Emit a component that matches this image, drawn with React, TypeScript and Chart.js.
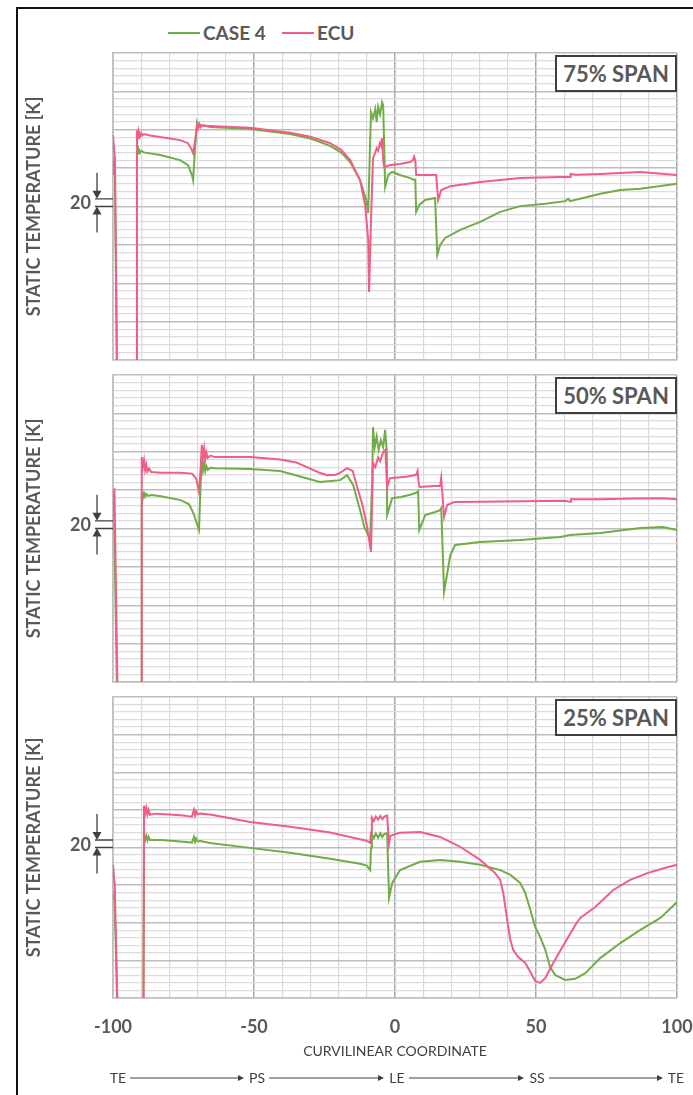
import React, { useEffect, useRef } from 'react';
import { Chart, registerables } from 'chart.js';

Chart.register(...registerables);
Chart.defaults.font.family = 'Lato, "Open Sans", sans-serif';

const GREEN = '#70ad47';
const PINK = '#ee5f86';
const TEXT = '#595959';

const SERIES = ['CASE 4', 'ECU'];
const X_TICKS = [-100, -50, 0, 50, 100];
const FLOW_LABELS = ['TE', 'PS', 'LE', 'SS', 'TE'];
const PANEL_TITLES = ['75% SPAN', '50% SPAN', '25% SPAN'];

// ---- 75% span ----
const s75EcuX = [-100, -99.3, -98.6, -91.8, -91.5, -91.1, -90.8, -90.4, -90.0, -89.7, -89.0, -86.9, -83.3, -76.2, -73.4, -72.0, -71.6, -70.9, -70.2, -69.8, -69.4, -69.0, -68.5, -65.6, -51.4, -37.2, -30, -23, -19, -15.9, -12.4, -10.6, -9.5, -9.2, -8.5, -7.8, -7.0, -6.5, -6.0, -5.3, -4.9, -4.6, -4.2, -3.8, -1.7, 1.8, 5.4, 6.3, 6.8, 7.2, 7.5, 8.9, 14.6, 15.3, 16.4, 19.6, 30.2, 44.4, 58.6, 62.1, 62.3, 64, 72.8, 87, 100];
const s75EcuY = [586, 521, -20, -20, 599, 578, 594, 583, 591, 585, 589, 585, 581, 573, 565, 547, 539, 570, 612, 604, 614, 606, 611, 610, 605, 592, 582, 565, 547, 521, 469, 404, 313, 177, 365, 526, 540, 552, 546, 565, 558, 578, 521, 503, 508, 511, 516, 520, 530, 520, 482, 482, 482, 417, 443, 453, 464, 474, 477, 477, 485, 483, 485, 490, 482];
const s75CaseX = [-100, -99.4, -98.6, -91.8, -91.5, -91.1, -90.8, -90.4, -90.0, -89.0, -83.3, -76.2, -73.4, -72.0, -71.6, -70.9, -70.2, -69.8, -69.4, -69.0, -68.5, -65.6, -51.4, -37.2, -30, -23, -19, -15.9, -12.4, -10.2, -9.5, -8.9, -8.5, -7.8, -7.0, -6.5, -6.0, -5.3, -4.6, -4.2, -3.8, -3.5, -2.4, -1.0, 1.8, 5.4, 6.8, 7.2, 7.5, 8.6, 10.7, 14.2, 15.0, 16.0, 17.8, 23.1, 30.2, 37.3, 44.4, 53.3, 60.4, 61.4, 62.1, 72.8, 79.9, 87, 100];
const s75CaseY = [482, 530, -20, -20, 552, 538, 548, 540, 545, 541, 534, 521, 508, 482, 469, 550, 618, 608, 616, 609, 612, 607, 602, 589, 577, 558, 540, 516, 469, 417, 383, 547, 646, 630, 654, 620, 660, 640, 672, 664, 547, 451, 482, 490, 482, 474, 469, 470, 386, 404, 417, 422, 274, 300, 318, 339, 360, 386, 401, 407, 414, 420, 414, 433, 443, 446, 459];

// ---- 50% span ----
const s50EcuX = [-100, -99.5, -98.4, -89.9, -89.8, -89.4, -89.0, -88.6, -88.2, -87.8, -87.2, -86.5, -83, -76, -72, -70.5, -69.5, -68.9, -68.5, -68.1, -67.7, -67.3, -66.9, -66.4, -65.5, -63.8, -51.4, -40.7, -35, -31.2, -27, -24.1, -21, -19.5, -17, -15, -13.4, -11.5, -9.9, -8.5, -7.8, -7.0, -6.0, -5.3, -4.2, -3.4, -2.8, -1.8, 0, 4, 7.5, 8.0, 8.4, 8.7, 14, 16.0, 16.4, 17.4, 18.5, 21, 30, 45, 60, 62.1, 62.4, 72.8, 85, 95, 100];
const s50EcuY = [440, 505, -20, -20, 586, 560, 578, 552, 566, 548, 556, 547, 545, 545, 543, 530, 495, 560, 618, 585, 608, 580, 598, 584, 590, 586, 586, 580, 572, 560, 546, 539, 540, 545, 557, 550, 508, 460, 404, 339, 571, 560, 585, 575, 598, 605, 508, 531, 532, 535, 540, 550, 520, 508, 511, 511, 532, 430, 461, 469, 470, 471, 472, 470, 476, 476, 478, 479, 476];
const s50CaseX = [-100, -99.6, -98.6, -89.9, -89.8, -89.4, -89.0, -88.6, -88.2, -87.6, -86.5, -83, -76, -73, -71.5, -69.5, -68.9, -68.5, -68.1, -67.7, -67.3, -66.9, -66.4, -65.5, -63.8, -51.4, -40.7, -26.6, -19.5, -17, -14.8, -12.4, -10.9, -9.5, -8.8, -8.1, -7.8, -7.2, -6.5, -5.8, -5.0, -4.2, -3.5, -2.9, -2.8, -1.0, 2, 5.4, 7.5, 8.2, 8.6, 10.7, 14.2, 16.0, 16.4, 17.4, 19.6, 21.3, 30.2, 44.4, 58.6, 62.1, 72.8, 87, 95, 100];
const s50CaseY = [430, 440, -20, -20, 495, 480, 492, 483, 490, 485, 487, 484, 474, 463, 440, 396, 520, 578, 552, 570, 550, 563, 553, 558, 557, 555, 550, 521, 526, 539, 513, 448, 404, 383, 375, 520, 664, 612, 640, 605, 630, 612, 657, 600, 435, 479, 482, 488, 493, 497, 396, 435, 443, 448, 453, 235, 330, 357, 365, 370, 378, 383, 388, 401, 404, 396];

// ---- 25% span ----
const s25EcuX = [-100, -99.4, -98.4, -89.2, -89.0, -88.6, -88.2, -87.8, -87.4, -86.9, -85, -80, -75, -72, -71.3, -70.9, -70.5, -70, -69, -65, -51.4, -37.2, -23, -12.4, -10, -8.8, -8.5, -8.2, -7.5, -6.8, -6, -5.2, -4.5, -3.8, -2.8, -2.1, -1.7, 0, 1.8, 8.9, 16, 23.1, 30.2, 35.5, 37.3, 38.4, 39.8, 40.9, 41.9, 43.7, 46.2, 48, 49.7, 51.5, 53.3, 56.1, 60.4, 64.6, 65.7, 71, 77.4, 83.4, 89.5, 95.9, 100];
const s25EcuY = [354, 300, -20, -20, 511, 490, 505, 488, 500, 487, 490, 488, 485, 482, 500, 485, 496, 488, 490, 487, 468, 455, 440, 422, 418, 412, 440, 479, 470, 482, 474, 484, 475, 482, 485, 410, 430, 436, 439, 441, 428, 402, 367, 332, 314, 279, 207, 154, 128, 109, 93, 69, 45, 40, 53, 93, 149, 202, 213, 242, 287, 314, 332, 346, 354];
const s25CaseX = [-100, -99.5, -98.5, -89.2, -89.0, -88.6, -88.2, -87.8, -87.4, -86.9, -83, -76, -72, -71.3, -70.9, -70.5, -70, -69, -65.6, -51.4, -37.2, -23, -12.4, -10, -8.8, -8.5, -8.2, -7.5, -6.8, -6, -5.2, -4.5, -3.8, -2.8, -2.1, -1, 1.8, 8.9, 16, 23.1, 30.2, 37.3, 40.9, 44.4, 46.2, 48, 49.7, 51.5, 53.3, 55, 56.8, 60.4, 63.9, 67.5, 72.8, 79.9, 87, 94.1, 100];
const s25CaseY = [261, 280, -20, -20, 434, 420, 431, 419, 428, 420, 420, 416, 413, 428, 415, 424, 416, 417, 412, 399, 386, 370, 357, 352, 340, 400, 436, 425, 437, 426, 438, 428, 436, 438, 266, 306, 340, 362, 367, 362, 354, 340, 327, 306, 279, 234, 189, 162, 128, 82, 61, 48, 51, 66, 106, 146, 181, 213, 255];

// "20 K" marker band
const MARK_LO = 400;
const MARK_HI = 420;

const toPts = (xs: number[], ys: number[]) => xs.map((x, i) => ({ x, y: ys[i] }));

const marker20 = {
  id: 'marker20',
  afterDraw(chart: any) {
    const { ctx, chartArea, scales } = chart;
    const yHi = scales.y.getPixelForValue(MARK_HI);
    const yLo = scales.y.getPixelForValue(MARK_LO);
    const L = chartArea.left;
    const ax = L - 16;
    ctx.save();
    ctx.strokeStyle = '#404040';
    ctx.fillStyle = '#404040';
    ctx.lineWidth = 1.3;
    ctx.beginPath();
    ctx.moveTo(L - 18, yHi); ctx.lineTo(L, yHi);
    ctx.moveTo(L - 18, yLo); ctx.lineTo(L, yLo);
    ctx.moveTo(ax, yHi - 26); ctx.lineTo(ax, yHi - 6);
    ctx.moveTo(ax, yLo + 6); ctx.lineTo(ax, yLo + 26);
    ctx.stroke();
    ctx.beginPath();
    ctx.moveTo(ax, yHi); ctx.lineTo(ax - 4.5, yHi - 8); ctx.lineTo(ax + 4.5, yHi - 8); ctx.closePath();
    ctx.moveTo(ax, yLo); ctx.lineTo(ax - 4.5, yLo + 8); ctx.lineTo(ax + 4.5, yLo + 8); ctx.closePath();
    ctx.fill();
    ctx.fillStyle = TEXT;
    ctx.font = 'bold 18px Lato';
    ctx.textAlign = 'right';
    ctx.textBaseline = 'middle';
    ctx.fillText('20', L - 22, (yHi + yLo) / 2 + 1);
    ctx.restore();
  },
};

type PanelProps = {
  top: number;
  height: number;
  padTop: number;
  padBottom: number;
  showX: boolean;
  caseX: number[]; caseY: number[]; ecuX: number[]; ecuY: number[];
};

const CANVAS_W = 710;
const PAD_RIGHT = 53;

function Panel(p: PanelProps) {
  const ref = useRef<HTMLCanvasElement>(null);
  useEffect(() => {
    if (!ref.current) return;
    const chart = new Chart(ref.current, {
      type: 'line',
      data: {
        datasets: [
          { label: SERIES[0], data: toPts(p.caseX, p.caseY), borderColor: GREEN, backgroundColor: GREEN, borderWidth: 2, pointRadius: 0, tension: 0, order: 1, clip: 0 },
          { label: SERIES[1], data: toPts(p.ecuX, p.ecuY), borderColor: PINK, backgroundColor: PINK, borderWidth: 2, pointRadius: 0, tension: 0, order: 0, clip: 0 },
        ],
      } as any,
      options: {
        responsive: false,
        animation: false,
        events: [],
        layout: { padding: { top: p.padTop, bottom: p.padBottom, left: 0, right: PAD_RIGHT } },
        plugins: { legend: { display: false }, tooltip: { enabled: false } },
        scales: {
          x: {
            type: 'linear', min: -100, max: 100,
            ticks: {
              stepSize: 10, maxTicksLimit: 100, autoSkip: false, maxRotation: 0, minRotation: 0,
              display: p.showX,
              padding: 18,
              color: TEXT,
              font: { size: 18, weight: 'bold' },
              callback: (v: any) => (X_TICKS.includes(Number(v)) ? String(v) : ''),
            },
            grid: {
              drawTicks: false,
              color: (c: any) => (c.tick && c.tick.value % 50 === 0 ? '#a6a6a6' : '#dadada'),
              lineWidth: (c: any) => (c.tick && c.tick.value % 50 === 0 ? 1.5 : 1.2),
            },
            border: { color: '#bfbfbf', width: 1.5 },
            title: {
              display: p.showX, text: 'CURVILINEAR COORDINATE', color: '#404040',
              font: { size: 14, weight: 'normal' }, padding: { top: 0, bottom: 0 },
            },
            afterFit: (s: any) => { s.height = p.showX ? 62 : 0; },
          },
          y: {
            type: 'linear', min: 0, max: 800,
            ticks: { stepSize: 20, maxTicksLimit: 1000, autoSkip: false, display: false },
            grid: {
              drawTicks: false,
              color: (c: any) => (c.tick && c.tick.value % 100 === 0 ? '#bdbdbd' : '#dcdcdc'),
              lineWidth: (c: any) => (c.tick && c.tick.value % 100 === 0 ? 1.5 : 1.2),
            },
            border: { color: '#bfbfbf', width: 1.5 },
            title: {
              display: true, text: 'STATIC TEMPERATURE [K]', color: TEXT,
              font: { size: 18, weight: 'bold' }, padding: { top: 3, bottom: 0 },
            },
            afterFit: (s: any) => { s.width = 93; },
          },
        },
      } as any,
      plugins: [marker20],
    });
    return () => chart.destroy();
  }, []);
  return (
    <canvas
      ref={ref}
      width={CANVAS_W}
      height={p.height}
      style={{ position: 'absolute', left: 20, top: p.top, width: CANVAS_W, height: p.height }}
    />
  );
}

const panelLabelStyle = (top: number): React.CSSProperties => ({
  position: 'absolute', left: 555, top, width: 118, height: 33,
  border: '2px solid #404040', background: '#fff', color: TEXT,
  font: 'bold 22px Lato', display: 'flex', alignItems: 'center', justifyContent: 'center',
  whiteSpace: 'nowrap',
});

const FLOW_X = [118, 257, 397, 537, 676];

export default function App() {
  return (
    <div style={{ position: 'absolute', left: 0, top: 0, width: 693, height: 1095, background: '#fff', overflow: 'hidden', fontFamily: 'Lato' }}>
      <div style={{ position: 'absolute', left: 16, top: 7, width: 700, height: 1100, borderTop: '2px solid #111', borderLeft: '2px solid #111' }} />
      {/* legend */}
      <div style={{ position: 'absolute', left: 168, top: 32, width: 32, height: 2, background: GREEN }} />
      <div style={{ position: 'absolute', left: 203, top: 21, font: 'bold 19px Lato', color: TEXT, whiteSpace: 'nowrap' }}>{SERIES[0]}</div>
      <div style={{ position: 'absolute', left: 282, top: 32, width: 32, height: 2, background: PINK }} />
      <div style={{ position: 'absolute', left: 317, top: 21, font: 'bold 19px Lato', color: TEXT, whiteSpace: 'nowrap' }}>{SERIES[1]}</div>

      <Panel top={43} height={327} padTop={10} padBottom={10} showX={false} caseX={s75CaseX} caseY={s75CaseY} ecuX={s75EcuX} ecuY={s75EcuY} />
      <Panel top={365} height={327} padTop={10} padBottom={10} showX={false} caseX={s50CaseX} caseY={s50CaseY} ecuX={s50EcuX} ecuY={s50EcuY} />
      <Panel top={687} height={408} padTop={10} padBottom={35} showX={true} caseX={s25CaseX} caseY={s25CaseY} ecuX={s25EcuX} ecuY={s25EcuY} />

      <div style={panelLabelStyle(55)}>{PANEL_TITLES[0]}</div>
      <div style={panelLabelStyle(377)}>{PANEL_TITLES[1]}</div>
      <div style={panelLabelStyle(699)}>{PANEL_TITLES[2]}</div>

      {/* flow direction row */}
      <svg style={{ position: 'absolute', left: 0, top: 0 }} width={693} height={1095}>
        {FLOW_X.slice(0, -1).map((x, i) => {
          const x1 = x + 12;
          const x2 = FLOW_X[i + 1] - 13;
          const y = 1078;
          return (
            <g key={i}>
              <line x1={x1} y1={y} x2={x2 - 4} y2={y} stroke="#404040" strokeWidth={1} />
              <path d={`M${x2},${y} L${x2 - 6},${y - 3} L${x2 - 6},${y + 3} Z`} fill="#404040" />
            </g>
          );
        })}
      </svg>
      {FLOW_LABELS.map((t, i) => (
        <div key={i} style={{ position: 'absolute', left: FLOW_X[i] - 15, width: 30, top: 1069, textAlign: 'center', font: '14px Lato', color: '#404040' }}>{t}</div>
      ))}
    </div>
  );
}
